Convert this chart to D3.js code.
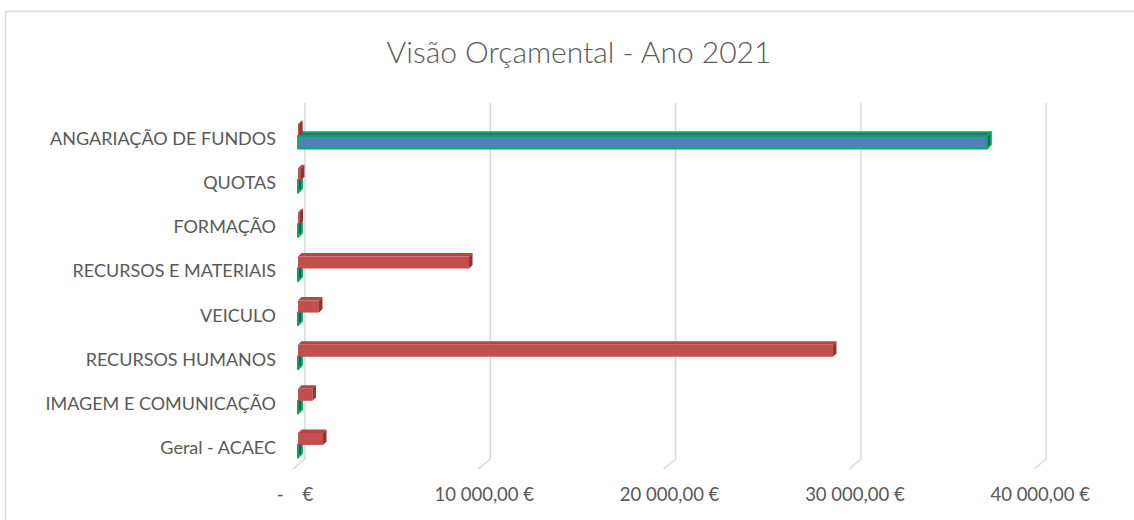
<!DOCTYPE html>
<html><head><meta charset="utf-8">
<script src="https://cdn.jsdelivr.net/npm/d3@7"></script>
<style>html,body{margin:0;padding:0;background:#fff;}svg{display:block;}</style>
</head><body>
<svg id="chart" width="1134" height="520"></svg>
<script>
const categories = ["ANGARIAÇÃO DE FUNDOS","QUOTAS","FORMAÇÃO","RECURSOS E MATERIAIS","VEICULO","RECURSOS HUMANOS","IMAGEM E COMUNICAÇÃO","Geral - ACAEC"];
const redValues  = [60, 160, 80, 9230, 1130, 28870, 780, 1350];
const blueValues = [37180, 0, 0, 0, 0, 0, 0, 0];
const tickValues = [0, 10000, 20000, 30000, 40000];
const tickLabels = ["-\u00a0\u00a0\u00a0\u00a0€", "10 000,00 €", "20 000,00 €", "30 000,00 €", "40 000,00 €"];
const title = "Visão Orçamental - Ano 2021";

const svg = d3.select("#chart");
const W = 1134, H = 520;
const FONT = "Lato, 'Open Sans', sans-serif";
const grey = "#595959";

// chart border
svg.append("rect").attr("x",5.5).attr("y",11.5).attr("width",W+10).attr("height",H+10)
  .attr("fill","none").attr("stroke","#d9d9d9").attr("stroke-width",1.5);

svg.append("text").attr("x",579).attr("y",51).attr("text-anchor","middle")
  .attr("dominant-baseline","central").attr("font-family",FONT).attr("font-weight",300)
  .attr("font-size",30).attr("fill",grey).text(title);

// 3D oblique offsets
const depthX = 12, depthY = 10;
const xBack = d3.scaleLinear().domain([0,40000]).range([305, 1046.2]);
const xBar = d3.scaleLinear().domain([0,40000]).range([298, 298 + 741.2]);
const y = d3.scaleBand().domain(categories).range([116, 469]);
const wallTop = 103, wallBottom = 459;

// gridlines on back wall + floor
const grid = svg.append("g");
tickValues.forEach(t => {
  const gx = xBack(t);
  grid.append("path")
    .attr("d", `M${gx},${wallTop} L${gx},${wallBottom} L${gx-depthX},${wallBottom+depthY}`)
    .attr("fill","none").attr("stroke","#d9d9d9").attr("stroke-width",1.5);
});

// tick labels
svg.append("g").selectAll("text").data(tickValues).join("text")
  .attr("x",(d,i)=> i===0 ? xBack(d)-10 : xBack(d)-6).attr("y",494)
  .attr("text-anchor","middle").attr("dominant-baseline","central")
  .attr("font-family",FONT).attr("font-size",18.5).attr("fill",grey)
  .text((d,i)=>tickLabels[i]);

// category labels
svg.append("g").selectAll("text").data(categories).join("text")
  .attr("x",276).attr("y",d=>y(d)+y.bandwidth()/2)
  .attr("text-anchor","end").attr("dominant-baseline","central")
  .attr("font-family",FONT).attr("font-size",18).attr("fill",grey)
  .text(d=>d);

// 3D bar drawer
function bar3d(g, x0, x1, yt, h, d, cols, stroke, sw) {
  const front = `M${x0},${yt} L${x1},${yt} L${x1},${yt+h} L${x0},${yt+h} Z`;
  const top = `M${x0},${yt} L${x0+d},${yt-d} L${x1+d},${yt-d} L${x1},${yt} Z`;
  const side = `M${x1},${yt} L${x1+d},${yt-d} L${x1+d},${yt+h-d} L${x1},${yt+h} Z`;
  [[top,cols.top],[front,cols.front],[side,cols.side]].forEach(([p,c])=>{
    g.append("path").attr("d",p).attr("fill",c)
      .attr("stroke",stroke||"none").attr("stroke-width",sw||0).attr("stroke-linejoin","round");
  });
}

const redCols = {front:"#c0504d", top:"#b24643", side:"#8a3634"};
const blueCols = {front:"#4f81bd", top:"#3d6598", side:"#2f4f7a"};
const bars = svg.append("g");
const barH = 12;
categories.forEach((c,i)=>{
  const cy = y(c)+y.bandwidth()/2;
  // blue series (lower in cluster)
  const bw = xBar(blueValues[i]);
  bar3d(bars, xBar(0), bw, cy-2, barH+0.5, 4, blueCols, "#00b050", 1.8);
  // red series (upper in cluster)
  const rw = xBar(redValues[i]);
  bar3d(bars, xBar(0), rw, cy-14, barH, 3.5, redCols, null, 0);
});
</script>
</body></html>
